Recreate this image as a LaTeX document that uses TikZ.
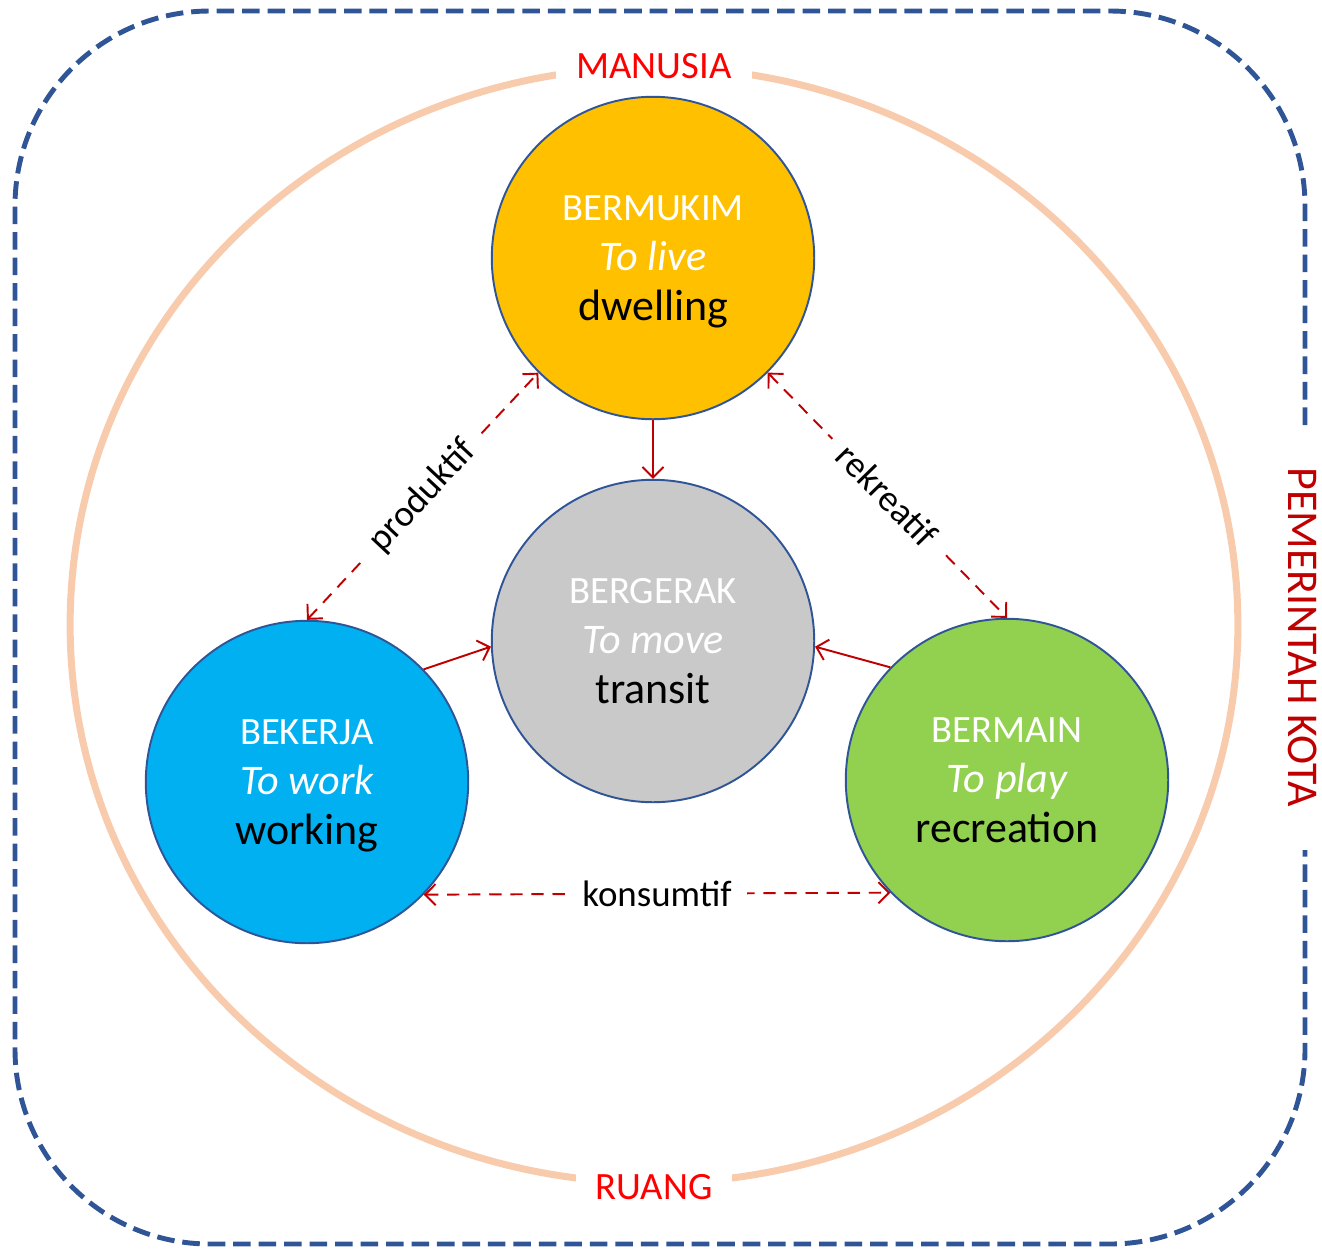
\documentclass[tikz,border=0pt]{standalone}
\usepackage{fontspec}
\setmainfont{Carlito}
\usetikzlibrary{arrows.meta}

\definecolor{frameblue}{HTML}{2F5597}
\definecolor{peach}{HTML}{F8CBAD}
\definecolor{darkred}{HTML}{C00000}
\definecolor{livefill}{HTML}{FFC000}
\definecolor{movefill}{HTML}{C9C9C9}
\definecolor{workfill}{HTML}{00B0F0}
\definecolor{playfill}{HTML}{92D050}

\newcommand{\actlabel}[3]{{\fontsize{22}{28.4}\selectfont\color{white}#1}\\
  {\fontsize{24}{28.4}\selectfont\itshape\color{white}#2}\\
  {\fontsize{25}{28.4}\selectfont #3}}

\begin{document}
\begin{tikzpicture}[x=0.02cm, y=-0.02cm,
    activity/.style={circle, draw=frameblue, line width=1.1pt, minimum size=6.45cm,
      inner sep=0pt, align=center, text depth=0pt, font=\fontsize{25}{28.4}\selectfont},
    flow/.style={draw=darkred, line width=1.1pt, -{Straight Barb[length=6pt,width=12pt]}},
    link/.style={draw=darkred, line width=1.1pt, dash pattern=on 7pt off 5pt,
      {Straight Barb[length=6pt,width=12pt]}-{Straight Barb[length=6pt,width=12pt]}},
    tag/.style={fill=white, inner sep=0.3cm, font=\fontsize{21}{25}\selectfont},
    realm/.style={fill=white, text=red, inner sep=0.4cm, font=\fontsize{22}{26}\selectfont}]

  \useasboundingbox (0,0) rectangle (1322,1248);

  % kota
  \draw[frameblue, line width=2.8pt, dash pattern=on 10pt off 4.5pt, rounded corners=3.9cm]
    (1305,425) -- (1305,11) -- (15,11) -- (15,1244) -- (1305,1244) -- (1305,850);
  \node[text=darkred, rotate=-90, font=\fontsize{25}{30}\selectfont] (kota) at (1303,637) {PEMERINTAH KOTA};

  % manusia & ruang
  \draw[peach, line width=4pt] (654,625) ellipse [x radius=11.68cm, y radius=11.16cm];
  \node[realm] (manusia) at (654,66) {MANUSIA};
  \node[realm] (ruang) at (654,1187) {RUANG};

  % kegiatan
  \node[activity, fill=livefill] (bermukim) at (653,258) {\actlabel{BERMUKIM}{To live}{dwelling}};
  \node[activity, fill=movefill] (bergerak) at (653,641) {\actlabel{BERGERAK}{To move}{transit}};
  \node[activity, fill=workfill] (bekerja) at (307,782) {\actlabel{BEKERJA}{To work}{working}};
  \node[activity, fill=playfill] (bermain) at (1007,780) {\actlabel{BERMAIN}{To play}{recreation}};

  \draw[flow] (bermukim.-90) -- (bergerak.90);
  \draw[flow] (bekerja.44) -- (bergerak.182);
  \draw[flow] (bermain.136) -- (bergerak.-2);

  \draw[link] (bekerja.90) -- node[tag, sloped] {produktif} (bermukim.225);
  \draw[link] (bermukim.-45) -- node[tag, sloped] {rekreatif} (bermain.90);
  \draw[link] (bekerja.-44) -- node[tag] {konsumtif} (bermain.224);

\end{tikzpicture}
\end{document}
